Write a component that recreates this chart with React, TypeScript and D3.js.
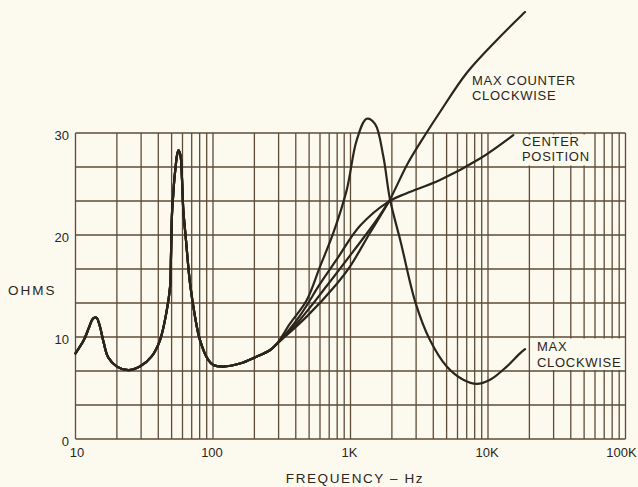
import React from 'react';
import * as d3 from 'd3';

const W = 638;
const H = 487;

// Axis ticks
const yTickValues = [0, 10, 20, 30];
const xTickValues = [10, 100, 1000, 10000, 100000];
const xTickLabels = ['10', '100', '1K', '10K', '100K'];

// Shared low-frequency part of all curves (Hz, ohms)
const commonFreq = [10, 11.5, 12.6, 13.4, 14.2, 15.0, 16.0, 17.3, 20, 24.2, 29.4, 35.8, 41.2, 46.1, 48.7, 49.5, 50.3, 51.4, 52.3, 53.4, 54.7, 56.1, 58.0, 59.5, 60.8, 63.6, 68.0, 74.0, 80.4, 92.4, 100.5, 118.8, 157, 207, 259, 290];
const commonOhm = [8.4, 9.7, 11.0, 11.8, 11.9, 11.1, 9.5, 8.0, 7.1, 6.75, 7.1, 8.1, 9.7, 12.6, 14.9, 18.0, 22.0, 24.0, 25.4, 26.6, 27.8, 28.3, 27.8, 25.5, 22.5, 19.5, 15.3, 12.0, 9.7, 7.75, 7.25, 7.1, 7.4, 8.07, 8.7, 9.3];

// MAX CLOCKWISE
const cwFreq = [363, 480, 600, 750, 938, 1110, 1311, 1507, 1733, 1937, 2320, 2980, 3783, 5012, 6610, 8277, 10350, 13690, 17100, 18590];
const cwOhm = [11.3, 13.6, 16.9, 20.2, 24.4, 29.3, 31.4, 30.9, 27.7, 23.5, 19.3, 13.3, 9.7, 7.1, 5.8, 5.4, 5.8, 7.1, 8.4, 8.8];

// MAX COUNTER CLOCKWISE
const ccwFreq = [480, 794, 991, 1384, 1905, 2618, 3581, 4477, 6998, 11610, 18580];
const ccwOhm = [12.0, 15.2, 16.9, 20.2, 23.3, 27.06, 30.05, 32.06, 35.88, 39.12, 41.86];

// CENTER POSITION
const centerFreq = [429, 600, 794, 1173, 1905, 2564, 4477, 8750, 15280];
const centerOhm = [12.1, 15.2, 17.6, 20.9, 23.3, 24.1, 25.4, 27.5, 29.8];

// Intermediate (unlabelled) trace
const midFreq = [429, 671, 1047, 1500, 1905];
const midOhm = [11.7, 15.0, 18.4, 21.2, 23.3];

const ink = '#2b251d';
const gridColor = '#5e4b38';
const paper = '#fcfaee';
const font = '"Liberation Sans", Arial, sans-serif';

function series(f: number[], o: number[]): [number, number][] {
  const pts: [number, number][] = commonFreq.map((v, i) => [v, commonOhm[i]]);
  f.forEach((v, i) => pts.push([v, o[i]]));
  return pts;
}

export default function App() {
  const x = d3.scaleLog().domain([10, 100000]).range([75.5, 625.5]);
  const y = d3.scaleLinear().domain([0, 30]).range([439, 133]);

  const vLines: number[] = [];
  [10, 100, 1000, 10000].forEach((d) => {
    for (let m = 1; m <= 9; m++) vLines.push(m * d);
  });
  vLines.push(100000);
  const hLines = d3.range(0, 10).map((i) => (i * 10) / 3);

  const line = d3
    .line<[number, number]>()
    .x((d) => x(d[0]))
    .y((d) => y(d[1]))
    .curve(d3.curveCatmullRom.alpha(0.5));

  const curves = [
    series(cwFreq, cwOhm),
    series(ccwFreq, ccwOhm),
    series(centerFreq, centerOhm),
    series(midFreq, midOhm),
  ];

  const labelStyle = { fontFamily: font, fontSize: 13, fill: ink, letterSpacing: 0.7 } as const;

  return (
    <svg width={W} height={H} style={{ position: 'absolute', left: 0, top: 0 }}>
      <rect x={0} y={0} width={W} height={H} fill={paper} />
      <g stroke={gridColor} strokeWidth={1.3}>
        {vLines.map((v, i) => (
          <line key={'v' + i} x1={x(v)} x2={x(v)} y1={y(0)} y2={y(30)} />
        ))}
        {hLines.map((h, i) => (
          <line key={'h' + i} x1={x(10)} x2={x(100000)} y1={y(h)} y2={y(h)} />
        ))}
      </g>
      {/* label backing boxes */}
      <rect x={518} y={134.5} width={75} height={31} fill={paper} />
      <rect x={532} y={338.5} width={92} height={31.5} fill={paper} />

      <g fill="none" stroke={ink} strokeWidth={2.2} strokeLinejoin="round" strokeLinecap="round">
        {curves.map((c, i) => (
          <path key={i} d={line(c) || ''} />
        ))}
      </g>

      {/* y tick labels */}
      {yTickValues.map((v) => (
        <text key={'yt' + v} x={69} y={y(v) + 6.5} textAnchor="end" fontFamily={font} fontSize={13} fill={ink}>
          {v}
        </text>
      ))}
      {/* x tick labels */}
      {xTickValues.map((v, i) => (
        <text
          key={'xt' + v}
          x={x(v) + (i === 0 ? 1.5 : i === 4 ? -4 : -1)}
          y={457}
          textAnchor="middle"
          fontFamily={font}
          fontSize={13}
          fill={ink}
        >
          {xTickLabels[i]}
        </text>
      ))}

      <text x={8} y={295} fontFamily={font} fontSize={13.5} fill={ink} letterSpacing={2}>
        OHMS
      </text>
      <text x={355} y={483} textAnchor="middle" fontFamily={font} fontSize={13.5} fill={ink} letterSpacing={1.6}>
        FREQUENCY – Hz
      </text>

      <text x={472} y={85} {...labelStyle}>MAX COUNTER</text>
      <text x={472} y={99.5} {...labelStyle}>CLOCKWISE</text>
      <text x={522} y={145.5} {...labelStyle}>CENTER</text>
      <text x={522} y={161} {...labelStyle}>POSITION</text>
      <text x={537} y={350.5} {...labelStyle}>MAX</text>
      <text x={537} y={366.5} {...labelStyle}>CLOCKWISE</text>
    </svg>
  );
}
